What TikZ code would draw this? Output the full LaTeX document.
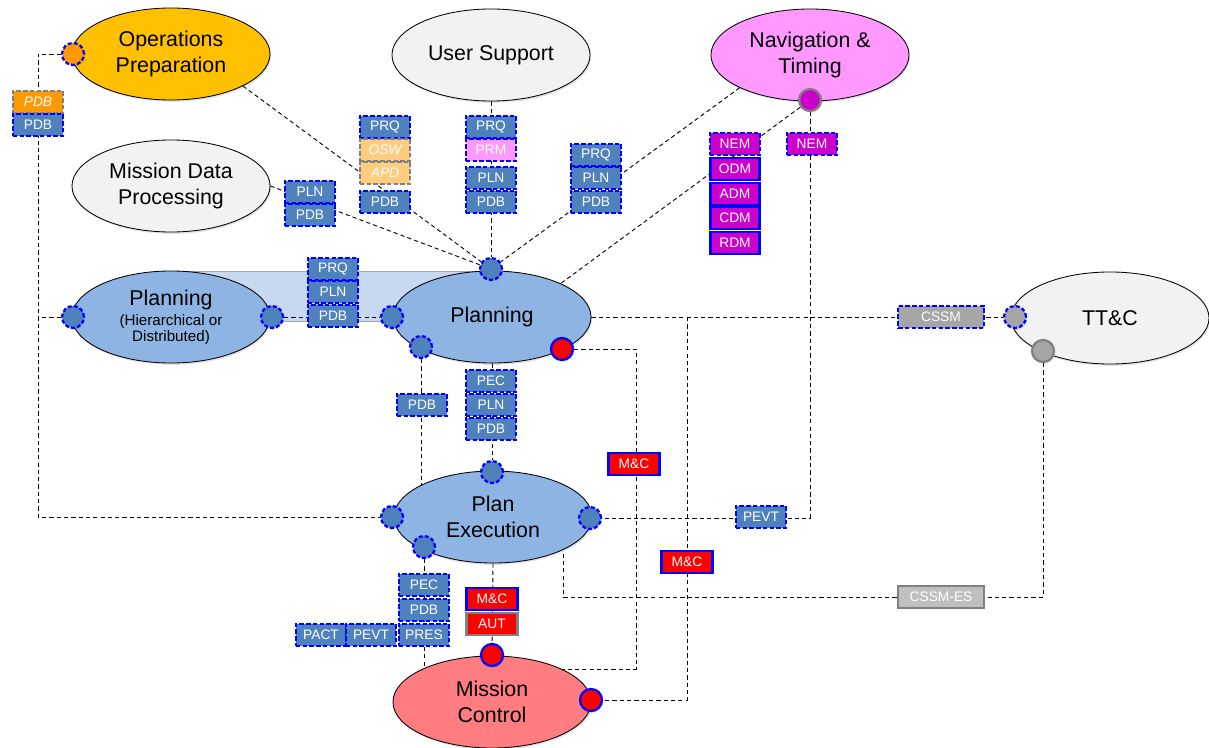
\documentclass[tikz,border=0pt]{standalone}
\usepackage{fontspec}
\setmainfont{Liberation Sans}
\usetikzlibrary{shapes.geometric,shadows}
\pgfdeclarelayer{bg}
\pgfsetlayers{bg,main}
\definecolor{boxblue}{HTML}{4F81BD}
\definecolor{ellblue}{HTML}{8DB4E2}
\definecolor{opsgold}{HTML}{FFC000}
\definecolor{lightgrey}{HTML}{F2F2F2}
\definecolor{navpink}{HTML}{FF99FF}
\definecolor{mcsalmon}{HTML}{FF7C80}
\definecolor{deeporange}{HTML}{FF9900}
\definecolor{paleorange}{HTML}{FFCC80}
\definecolor{navmag}{HTML}{CC00CC}
\definecolor{midgrey}{HTML}{A6A6A6}
\definecolor{palegrey}{HTML}{BFBFBF}
\definecolor{bandblue}{HTML}{C6D9F1}
\newcommand{\subfont}{\fontsize{10.8}{12}\selectfont}
\begin{document}
\begin{tikzpicture}[x=0.025cm,y=-0.025cm,
  softshadow/.style={drop shadow={opacity=0.22, shadow xshift=0.8pt, shadow yshift=-1.3pt}},
  func/.style={ellipse, draw=black, line width=0.6pt, minimum width=4.95cm,
    minimum height=2.3cm, inner sep=0pt, align=center,
    font=\fontsize{15.2}{18.5}\selectfont, softshadow},
  port/.style={circle, minimum size=0.55cm, inner sep=0pt, line width=1.6pt, softshadow},
  bport/.style={port, draw=blue, fill=boxblue, dash pattern=on 2.8pt off 1.6pt},
  rport/.style={port, draw=blue, fill=red},
  tag/.style={rectangle, minimum width=1.26cm, minimum height=0.55cm, inner sep=0pt,
    text=white, font=\fontsize{9.8}{11}\selectfont},
  dtag/.style={tag, fill=boxblue, draw=blue, line width=1.8pt, dash pattern=on 3.2pt off 1.6pt},
  otag/.style={tag, fill=paleorange, draw=gray, line width=1.8pt, dash pattern=on 3.2pt off 1.6pt,
    font=\fontsize{9.8}{11}\selectfont\itshape},
  mtag/.style={tag, fill=navmag, draw=blue, line width=1.6pt, minimum width=1.22cm, minimum height=0.54cm},
  rtag/.style={tag, fill=red, draw=blue, line width=1.6pt, minimum width=1.28cm, minimum height=0.54cm},
  conn/.style={draw=black, line width=0.65pt, dash pattern=on 3pt off 2.2pt}]

\useasboundingbox (0,0) rectangle (1209,748);

% ---- background band linking the two planning functions
\begin{pgfonlayer}{bg}
  \path[fill=bandblue, draw=gray!70, line width=0.5pt] (171,271) rectangle (492,321);
\end{pgfonlayer}

% ---- functions
\node[func, fill=opsgold]    (op)  at (171,54)  {Operations\\Preparation};
\node[func, fill=lightgrey]  (us)  at (491,55)  {User Support};
\node[func, fill=navpink]    (nt)  at (810,55)  {Navigation \&\\Timing};
\node[func, fill=lightgrey]  (mdp) at (171,186) {Mission Data\\Processing};
\node[func, fill=ellblue]    (plh) at (171,317)
  {Planning\\[-4.3pt]{\subfont(Hierarchical or}\\[-7pt]{\subfont Distributed)}};
\node[func, fill=ellblue]    (pl)  at (492,317) {Planning};
\node[func, fill=ellblue]    (pe)  at (493,517) {Plan\\Execution};
\node[func, fill=mcsalmon]   (mc)  at (492,702) {Mission\\Control};
\node[func, fill=lightgrey]  (tt)  at (1110,318) {TT\&C};

% ---- ports
\node[bport, fill=deeporange] (pOp) at (73,54) {};
\node[port, draw=gray, fill=navmag] (pNt) at (810,100) {};
\node[bport] (pPlhL) at (73,317) {};
\node[bport] (pPlhR) at (272,317) {};
\node[bport] (pPlT)  at (491,269) {};
\node[bport] (pPlL)  at (392,317) {};
\node[bport] (pPlLL) at (421,347) {};
\node[rport] (pPlR)  at (562,349) {};
\node[bport] (pPeT)  at (492,472) {};
\node[bport] (pPeL)  at (392,517) {};
\node[bport] (pPeR)  at (590,518) {};
\node[bport] (pPeLL) at (424,547) {};
\node[rport] (pMcT)  at (492,655) {};
\node[rport] (pMcR)  at (591,700) {};
\node[bport, fill=midgrey] (pTtL) at (1015,317) {};
\node[port, draw=gray, fill=midgrey] (pTtB) at (1043,351) {};

% ---- data item tags
\node[otag, fill=deeporange] (tOpA) at (38,102) {PDB};
\node[dtag] (tOpB) at (38,125) {PDB};

\node[dtag] (tMdA) at (310,192) {PLN};
\node[dtag] (tMdB) at (310,215) {PDB};

\node[dtag] (tAa) at (385,127) {PRQ};
\node[otag] (tAb) at (385,150) {OSW};
\node[otag] (tAc) at (385,173) {APD};
\node[dtag] (tAd) at (385,202) {PDB};

\node[dtag] (tBa) at (491,127) {PRQ};
\node[dtag, fill=navpink] (tBb) at (491,150) {PRM};
\node[dtag] (tBc) at (491,178) {PLN};
\node[dtag] (tBd) at (491,202) {PDB};

\node[dtag] (tCa) at (596,155) {PRQ};
\node[dtag] (tCb) at (596,178) {PLN};
\node[dtag] (tCc) at (596,202) {PDB};

\node[dtag, fill=navmag] (tNa) at (735,144) {NEM};
\node[mtag] (tNb) at (735,169) {ODM};
\node[mtag] (tNc) at (735,194) {ADM};
\node[mtag] (tNd) at (735,218) {CDM};
\node[mtag] (tNe) at (735,243) {RDM};
\node[dtag, fill=navmag] (tNem) at (812,144) {NEM};

\node[dtag] (tHa) at (333,269) {PRQ};
\node[dtag] (tHb) at (333,292) {PLN};
\node[dtag] (tHc) at (333,316) {PDB};

\node[dtag] (tPdb) at (422,405) {PDB};
\node[dtag] (tEa) at (491,381) {PEC};
\node[dtag] (tEb) at (491,405) {PLN};
\node[dtag] (tEc) at (491,429) {PDB};

\node[rtag] (tMc1) at (634,464) {M\&C};
\node[rtag] (tMc2) at (687,562) {M\&C};
\node[dtag] (tPevt) at (761,517) {PEVT};
\node[dtag, fill=midgrey, minimum width=2.15cm] (tCssm) at (941,317) {CSSM};
\node[tag, fill=palegrey, draw=gray, line width=1.6pt, minimum width=2.15cm] (tCssmEs) at (941,597) {CSSM-ES};

\node[dtag] (tLa) at (424,585) {PEC};
\node[dtag] (tLb) at (424,610) {PDB};
\node[dtag] (tLc) at (424,635) {PRES};
\node[dtag] (tLd) at (321,635) {PACT};
\node[dtag] (tLe) at (371,635) {PEVT};

\node[rtag] (tMa) at (492,599) {M\&C};
\node[rtag, draw=gray] (tMb) at (492,624) {AUT};

% ---- routing points
\coordinate (lb) at (38,517);
\coordinate (r1) at (636,669);
\coordinate (r2) at (687,317);
\coordinate (r3) at (563,597);

% ---- interfaces
\begin{pgfonlayer}{bg}
  \draw[conn] (pOp) -| (lb) -- (pPeL);
  \draw[conn] (pPlhL) -- (pPlhL -| lb);
  \draw[conn] (op.-24) -- (pPlT);
  \draw[conn] (mdp.east) -- (pPlT);
  \draw[conn] (us.south) -- (pPlT);
  \draw[conn] (nt.205) -- (pPlT);
  \draw[conn] (pNt) -- (pl.26);
  \draw[conn] (pNt) |- (pPeR);
  \draw[conn] (pPlhR) -- (pPlL);
  \draw[conn] (pPlLL) -- (pPlLL |- pe.center);
  \draw[conn] (pl.south) -- (pPeT);
  \draw[conn] (pPlR) -| (r1) -- (r1 -| mc.center);
  \draw[conn] (pl.east) -- (pTtL);
  \draw[conn] (r2) |- (pMcR);
  \draw[conn] (r3 |- pe.center) -- (r3) -| (pTtB);
  \draw[conn] (pPeLL) -- (pPeLL |- mc.center);
  \draw[conn] (pe.south) -- (pMcT);
\end{pgfonlayer}
\end{tikzpicture}
\end{document}
